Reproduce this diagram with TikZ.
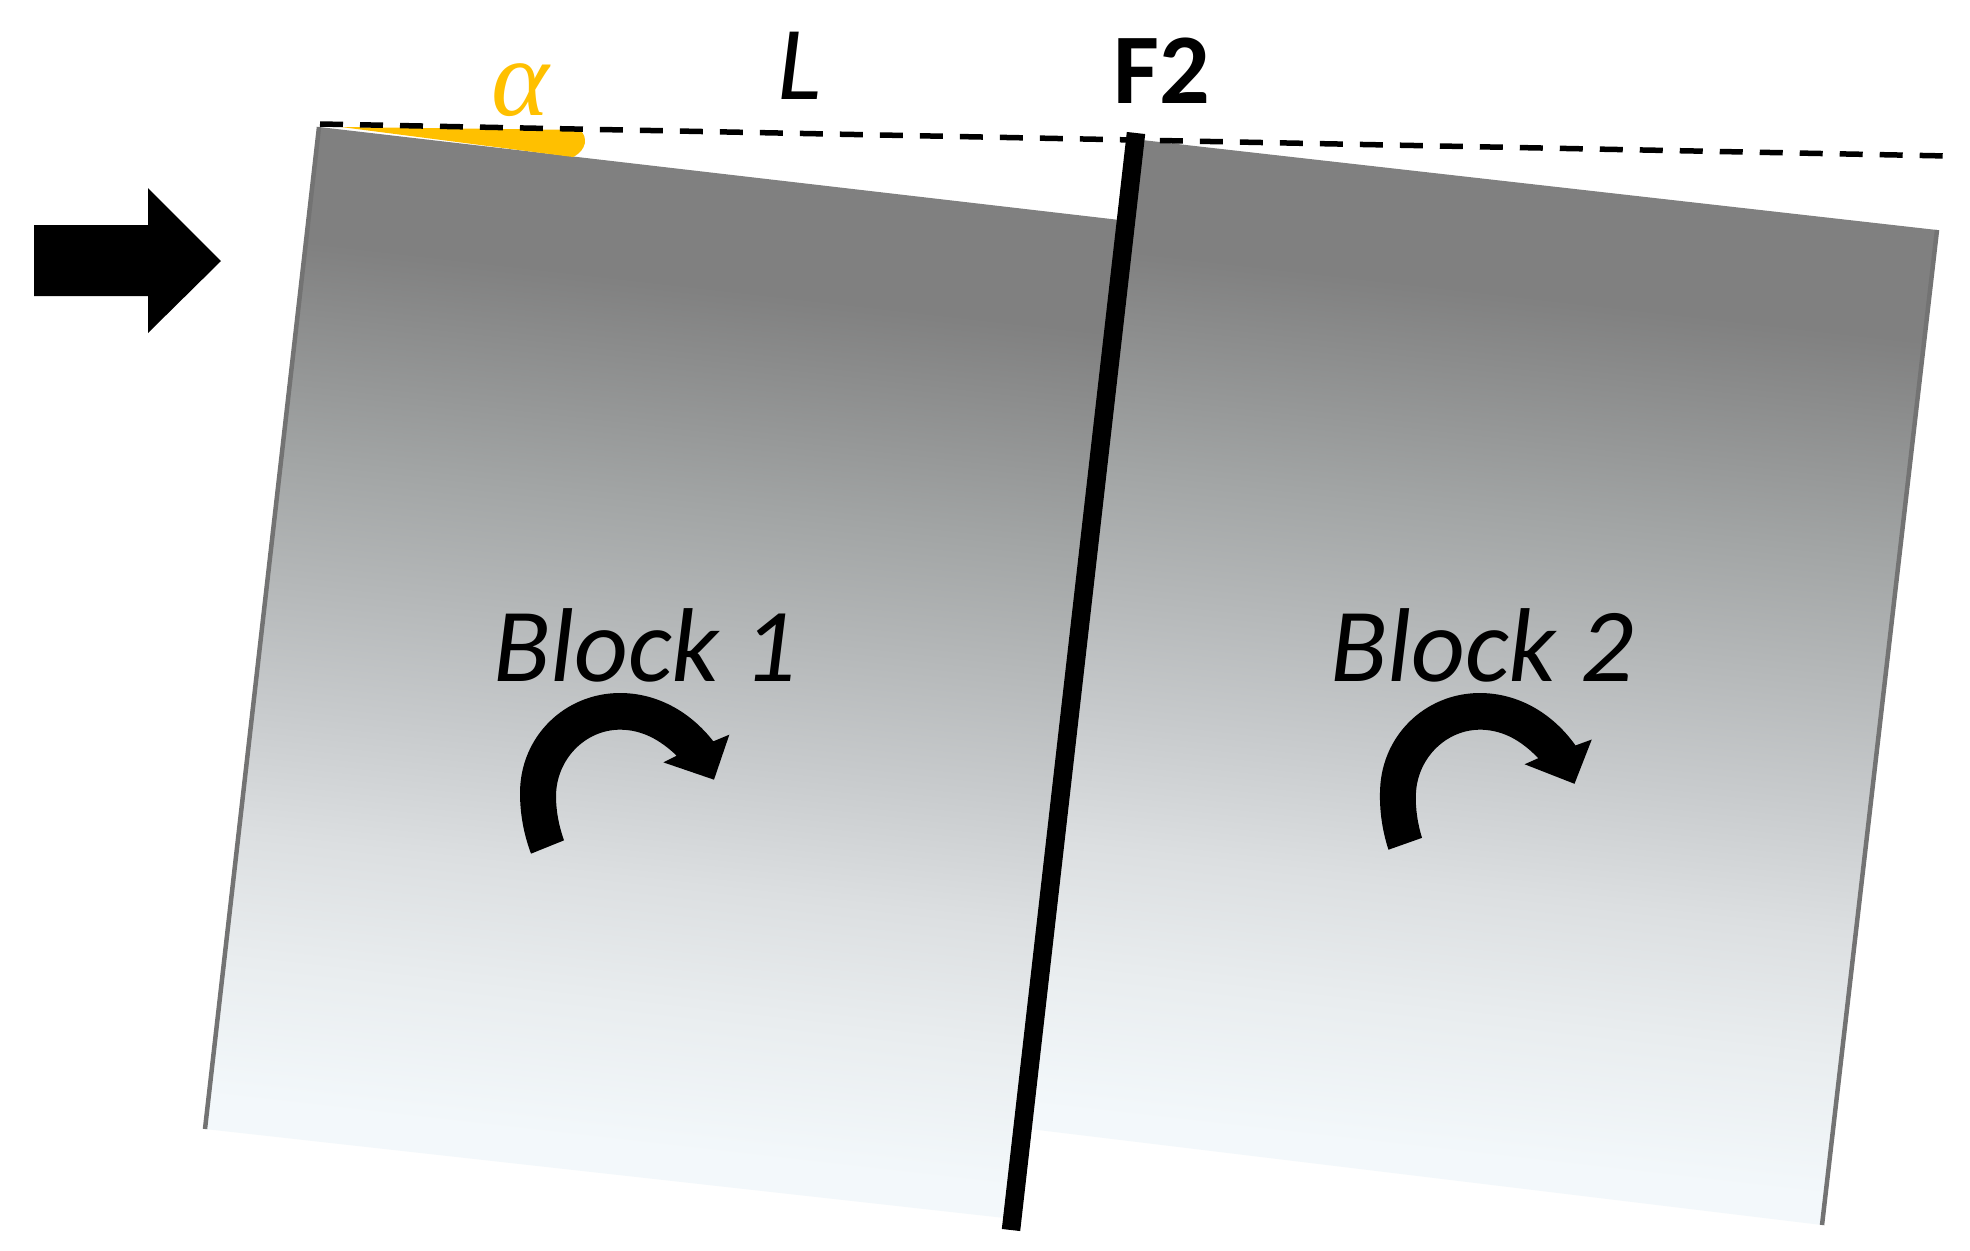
\documentclass[tikz,border=0pt]{standalone}
\usepackage{fontspec}
\setmainfont{Carlito}
\newfontfamily\greekitalic{Liberation Serif}
\definecolor{amber}{HTML}{FFC000}
\definecolor{edgegray}{HTML}{808080}
\definecolor{fadea}{HTML}{F3F8FB}
\definecolor{fadeb}{HTML}{E9EDEF}
\definecolor{fadec}{HTML}{DCDFE1}
\definecolor{faded}{HTML}{C8CBCD}
\definecolor{fadee}{HTML}{A2A5A5}
\pgfdeclareverticalshading{blockfade}{1500bp}{
 color(0bp)=(fadea);
 color(230bp)=(fadea);
 color(370bp)=(fadeb);
 color(495bp)=(fadec);
 color(620bp)=(faded);
 color(872bp)=(fadee);
 color(1090bp)=(edgegray);
 color(1400bp)=(edgegray)}
\tikzset{
 x=1pt,y=-1pt,
 label text/.style={inner sep=0pt,font=\fontsize{105}{110}\selectfont\itshape},
 fault line/.style={line width=18.5pt,line cap=butt,black},
 datum line/.style={line width=5.5pt,black,dash pattern=on 23pt off 17pt},
 block edge/.style={line width=4.5pt,edgegray!90!black},
 fade/.style={inner sep=0pt,outer sep=0pt,rotate=-6.5}
}
\newcommand{\turnarrow}[3]{%
 \begin{scope}[shift={(#1,#2)},rotate=#3]
 \fill[black,x=0.3333pt,y=-0.3333pt,shift={(-480,-640)}]
  (213,822) .. controls (190,760) and (180,700) .. (180,640)
  .. controls (180,470) and (315,340) .. (480,340)
  .. controls (590,340) and (690,395) .. (760,485)
  -- (808,465) -- (762,600) -- (610,548) -- (650,528)
  .. controls (600,480) and (545,450) .. (480,450)
  .. controls (375,450) and (288,540) .. (288,650)
  .. controls (288,695) and (297,740) .. (312,782) -- cycle;
 \end{scope}}
\begin{document}
\begin{tikzpicture}
\useasboundingbox (0,0) rectangle (1970,1250);
\fill[white] (0,0) rectangle (1970,1250);
\coordinate (b1tl) at (319,127);
\coordinate (b1tr) at (1124,220.5);
\coordinate (b1br) at (1005,1218);
\coordinate (b1bl) at (205,1129);
\coordinate (b2tl) at (1133,139);
\coordinate (b2tr) at (1937,230);
\coordinate (b2br) at (1822,1225);
\coordinate (b2bl) at (1030,1129);
\coordinate (ftop) at (1136,133);
\coordinate (fbot) at (1011,1230);
\coordinate (dl) at (320,124);
\coordinate (dr) at (1948,156);
\begin{scope}
\clip (b1tl) -- (b1tr) -- (b1br) -- (b1bl) -- cycle;
\node[fade] (fadeone) at (662,675) {\pgfuseshading{blockfade}};
\end{scope}
\begin{scope}
\clip (b2tl) -- (b2tr) -- (b2br) -- (b2bl) -- cycle;
\node[fade] (fadetwo) at (1489,685) {\pgfuseshading{blockfade}};
\end{scope}
\draw[block edge] (b1tl) -- (b1bl);
\draw[block edge] (b2tr) -- (b2br);
\fill[amber] (341,127) -- (580,130) .. controls (588,137) and (587,150) .. (573,157) -- cycle;
\draw[datum line] (dl) -- (dr);
\draw[fault line] (ftop) -- (fbot);
\fill[black] (34,225) -- (148,225) -- (148,188) -- (221,261) -- (148,333) -- (148,296) -- (34,296) -- cycle;
\turnarrow{620}{793}{0}
\turnarrow{1480}{793}{-2.5}
\node[label text,text=amber,font=\fontsize{110}{110}\selectfont\greekitalic\itshape] (alpha) at (520,90) {α};
\node[label text] (lbl) at (800,66) {L};
\node[label text,font=\fontsize{100}{110}\selectfont\bfseries] (ftwo) at (1162,71) {F2};
\node[label text,anchor=base] (blockone) at (645,681) {Block 1};
\node[label text,anchor=base] (blocktwo) at (1482,681) {Block 2};
\end{tikzpicture}
\end{document}
